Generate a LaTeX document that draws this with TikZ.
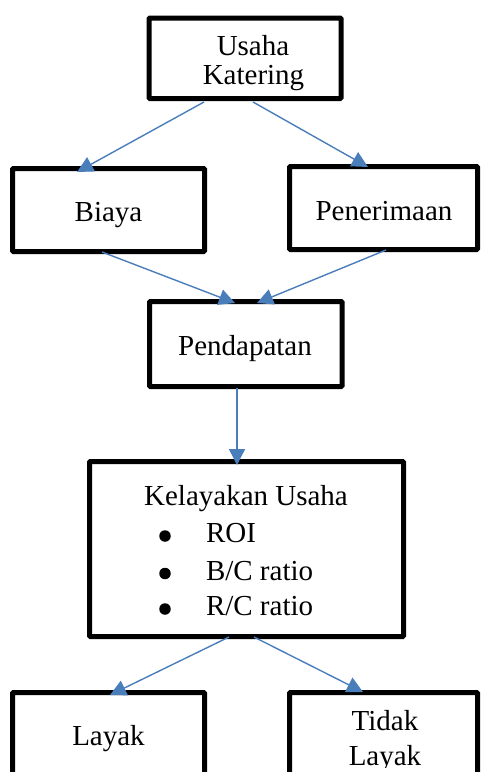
\documentclass[tikz,border=0pt]{standalone}
\usepackage{fontspec}
\setmainfont{Liberation Serif}
\usetikzlibrary{arrows.meta,calc}
\definecolor{arrowblue}{RGB}{74,126,187}
\begin{document}
\begin{tikzpicture}[x=1pt,y=-1pt,
  box/.style={draw=black,line width=5pt,rounded corners=1pt,inner sep=0pt,outer sep=0pt},
  txt/.style={inner sep=0pt,outer sep=0pt,anchor=base,font=\fontsize{29}{33}\selectfont},
  itemtxt/.style={txt,anchor=base west},
  dot/.style={circle,fill=black,inner sep=0pt,outer sep=0pt,minimum size=11.5pt},
  conn/.style={draw=arrowblue,line width=1.4pt,-{Triangle[length=16pt,width=16pt]}}]
\clip (0,0) rectangle (480,772);
\path[use as bounding box] (0,0) rectangle (480,772);
% boxes
\node[box,minimum width=192pt,minimum height=80.5pt] (usaha) at (245,58.25) {};
\node[box,minimum width=192pt,minimum height=83pt] (biaya) at (108.5,210) {};
\node[box,minimum width=188pt,minimum height=83pt] (penerimaan) at (383.5,208) {};
\node[box,minimum width=192.5pt,minimum height=85pt] (pendapatan) at (245.75,344) {};
\node[box,minimum width=314pt,minimum height=175pt] (kelayakan) at (246.5,549) {};
\node[box,minimum width=192pt,minimum height=110pt] (layak) at (108.5,747.5) {};
\node[box,minimum width=188pt,minimum height=110pt] (tidak) at (383.5,747.5) {};
% texts
\node[txt] (tUsaha) at (253,55) {Usaha};
\node[txt] (tKatering) at (253.5,84) {Katering};
\node[txt] (tBiaya) at (108.5,221) {Biaya};
\node[txt] (tPenerimaan) at (384,220) {Penerimaan};
\node[txt] (tPendapatan) at (245,355) {Pendapatan};
\node[txt] (tKelayakan) at (246,505) {Kelayakan Usaha};
\node[dot] (b1) at (165,536) {};
\node[dot] (b2) at (165,573.5) {};
\node[dot] (b3) at (165,609) {};
\node[itemtxt] (i1) at (206,542.5) {ROI};
\node[itemtxt] (i2) at (206,580) {B/C ratio};
\node[itemtxt] (i3) at (206,615.5) {R/C ratio};
\node[txt] (tLayak) at (108.5,745) {Layak};
\node[txt] (tTidak) at (385,730.5) {Tidak};
\begin{scope}
\clip (290,740) rectangle (475,767.5);
\node[txt] (tTidakLayak) at (385,765) {Layak};
\end{scope}
% connectors
\draw[conn] ($(usaha.south)+(-41,3.5)$) -- ($(biaya.north)+(-31.5,3.5)$);
\draw[conn] ($(usaha.south)+(8,3.5)$) -- ($(penerimaan.north)+(-15.5,0.5)$);
\draw[conn] ($(biaya.south)+(-6.5,0.5)$) -- ($(pendapatan.north)+(-10.75,1.5)$);
\draw[conn] ($(penerimaan.south)+(2.5,0.5)$) -- ($(pendapatan.north)+(11.25,1.5)$);
\draw[conn] ($(pendapatan.south)+(-8.75,1.5)$) -- ($(kelayakan.north)+(-9.5,3.5)$);
\draw[conn] ($(kelayakan.south)+(-17.5,0.5)$) -- ($(layak.north)+(1.5,2.5)$);
\draw[conn] ($(kelayakan.south)+(7.5,0.5)$) -- ($(tidak.north)+(-20.5,-0.5)$);
\end{tikzpicture}
\end{document}
